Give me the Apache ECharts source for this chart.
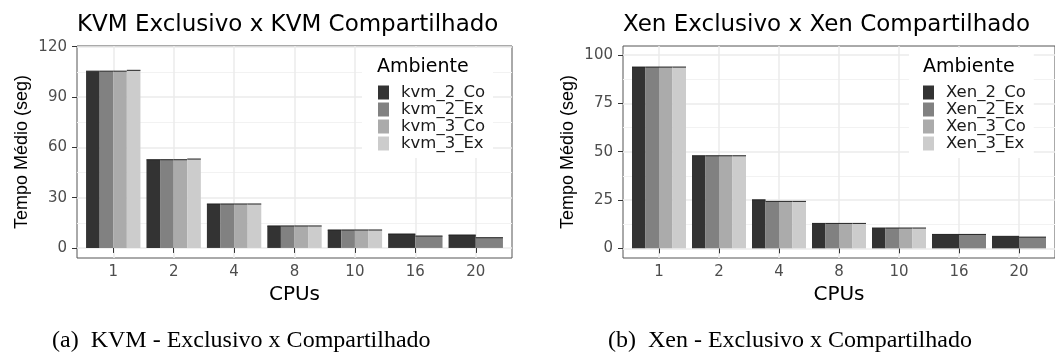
<!DOCTYPE html>
<html>
<head>
<meta charset="utf-8">
<script src="https://cdn.jsdelivr.net/npm/echarts@6/dist/echarts.min.js"></script>
<style>
  html, body { margin: 0; padding: 0; background: #fff; }
  #chart { width: 1055px; height: 352px; }
</style>
</head>
<body>
<div id="chart"></div>
<script>
// data
var cpus = ['1', '2', '4', '8', '10', '16', '20'];
var xPos = [1, 2, 3, 4, 5, 6, 7];

var kvmNames = ['kvm_2_Co', 'kvm_2_Ex', 'kvm_3_Co', 'kvm_3_Ex'];
var kvm2Co = [105.4, 52.6, 26.2, 13.1, 10.7, 8.3, 7.7];
var kvm2Ex = [105.4, 52.6, 26.2, 13.1, 10.7, 7.1, 6.1];
var kvm3Co = [105.4, 52.6, 26.2, 13.1, 10.7, null, null];
var kvm3Ex = [105.9, 53.0, 26.2, 13.1, 10.7, null, null];

var xenNames = ['Xen_2_Co', 'Xen_2_Ex', 'Xen_3_Co', 'Xen_3_Ex'];
var xen2Co = [93.8, 47.9, 25.1, 12.9, 10.5, 7.2, 6.2];
var xen2Ex = [93.8, 47.9, 24.3, 12.9, 10.5, 7.2, 5.8];
var xen3Co = [93.8, 47.9, 24.3, 12.9, 10.5, null, null];
var xen3Ex = [93.8, 47.9, 24.3, 12.9, 10.5, null, null];

var kvmTicks = [0, 30, 60, 90, 120];
var kvmMinor = [15, 45, 75, 105];
var xenTicks = [0, 25, 50, 75, 100];
var xenMinor = [12.5, 37.5, 62.5, 87.5];

var greys = ['#333333', '#818181', '#ababab', '#cccccc'];
// the picture is stretched sideways, so the wider DejaVu face fits it better
var font = 'DejaVu Sans';

// ggplot style dodge: bars of one CPU share 0.9 of a unit
function barSeries(name, k, values, group, panel) {
  return {
    type: 'custom',
    name: name,
    xAxisIndex: panel,
    yAxisIndex: panel * 2,
    itemStyle: { color: greys[k] },
    encode: { x: 0, y: 1 },
    data: values.map(function (v, i) { return [xPos[i], v]; })
                .filter(function (d) { return d[1] != null; }),
    renderItem: function (params, api) {
      var x = api.value(0), v = api.value(1);
      var present = group.map(function (s) { return s[x - 1] != null; });
      var n = present.filter(Boolean).length;
      var slot = present.slice(0, k).filter(Boolean).length;
      var w = 0.9 / n;
      var x0 = x - 0.45 + slot * w;
      var p0 = api.coord([x0, 0]);
      var p1 = api.coord([x0 + w, v]);
      return {
        type: 'group',
        children: [
          { type: 'rect',
            shape: { x: p0[0], y: p1[1], width: p1[0] - p0[0], height: p0[1] - p1[1] },
            style: { fill: greys[k] } },
          { type: 'line',
            shape: { x1: p0[0], y1: p1[1], x2: p1[0], y2: p1[1] },
            style: { stroke: '#222', lineWidth: 1 } }
        ]
      };
    }
  };
}

function xAxisFor(panel) {
  return {
    type: 'value', gridIndex: panel, min: 0.4, max: 7.6, interval: 1,
    name: 'CPUs', nameLocation: 'middle', nameGap: 21,
    nameTextStyle: { fontFamily: font, fontSize: 20, color: '#000' },
    axisLine: { show: false },
    axisTick: { show: true, length: 5, customValues: xPos, lineStyle: { color: '#333' } },
    axisLabel: {
      customValues: xPos, margin: 7, fontFamily: font, fontSize: 15, color: '#4d4d4d',
      formatter: function (v) { return cpus[Math.round(v) - 1]; }
    },
    splitLine: { show: true, lineStyle: { color: '#ebebeb', width: 1.5 } }
  };
}

function yAxisFor(panel, min, max, ticks) {
  return {
    type: 'value', gridIndex: panel, min: min, max: max,
    name: 'Tempo Médio (seg)', nameLocation: 'middle', nameGap: 46,
    nameTextStyle: { fontFamily: 'Liberation Sans', fontSize: 18, color: '#000' },
    axisLine: { show: false },
    axisTick: { show: true, length: 5, customValues: ticks, lineStyle: { color: '#333' } },
    axisLabel: { customValues: ticks, margin: 10, fontFamily: font, fontSize: 15, color: '#4d4d4d' },
    splitLine: { show: true, lineStyle: { color: '#ebebeb', width: 1.5 } }
  };
}

function minorAxisFor(panel, min, max, ticks) {
  return {
    type: 'value', gridIndex: panel, min: min, max: max, position: 'left',
    axisLine: { show: false },
    axisTick: { show: false, customValues: ticks },
    axisLabel: { show: false, customValues: ticks },
    splitLine: { show: true, lineStyle: { color: '#f2f2f2', width: 1 } }
  };
}

var kvmGroup = [kvm2Co, kvm2Ex, kvm3Co, kvm3Ex];
var xenGroup = [xen2Co, xen2Ex, xen3Co, xen3Ex];

var series = [];
kvmGroup.forEach(function (s, k) { series.push(barSeries(kvmNames[k], k, s, kvmGroup, 0)); });
xenGroup.forEach(function (s, k) { series.push(barSeries(xenNames[k], k, s, xenGroup, 1)); });

function legendFor(names, left, padLeft) {
  return {
    data: names, orient: 'vertical', left: left, top: 48,
    backgroundColor: '#fff', padding: [36, 8, 6, padLeft],
    icon: 'rect', itemWidth: 11, itemHeight: 14, itemGap: 0,
    selectedMode: false,
    textStyle: { fontFamily: font, fontSize: 16.5, color: '#1a1a1a', padding: [0, 0, 0, 7], lineHeight: 14 }
  };
}

var titleStyle = { fontFamily: font, fontSize: 23, fontWeight: 'normal', color: '#000' };
var legendTitleStyle = { fontFamily: font, fontSize: 19, fontWeight: 'normal', color: '#000' };
var captionStyle = { fontFamily: 'Liberation Serif', fontSize: 24, fontWeight: 'normal', color: '#000' };

var chart = echarts.init(document.getElementById('chart'), null, { renderer: 'canvas' });
chart.setOption({
  animation: false,
  backgroundColor: '#fff',
  title: [
    { text: 'KVM Exclusivo x KVM Compartilhado', left: 72, top: 9, textStyle: titleStyle },
    { text: 'Xen Exclusivo x Xen Compartilhado', left: 618, top: 9, textStyle: titleStyle },
    { text: 'Ambiente', left: 372, top: 53, z: 10, textStyle: legendTitleStyle },
    { text: 'Ambiente', left: 918, top: 53, z: 10, textStyle: legendTitleStyle },
    { text: '(a)  KVM - Exclusivo x Compartilhado', left: 47, top: 324, textStyle: captionStyle },
    { text: '(b)  Xen - Exclusivo x Compartilhado', left: 603, top: 324, textStyle: captionStyle }
  ],
  legend: [
    legendFor(kvmNames, 362, 16),
    legendFor(xenNames, 909, 14)
  ],
  grid: [
    { left: 77, top: 46, width: 435, height: 212, show: true,
      borderColor: '#555', borderWidth: 1, backgroundColor: '#fff' },
    { left: 623, top: 46, width: 440, height: 212, show: true,
      borderColor: '#555', borderWidth: 1, backgroundColor: '#fff' }
  ],
  xAxis: [xAxisFor(0), xAxisFor(1)],
  yAxis: [
    yAxisFor(0, -6, 120.4, kvmTicks),
    minorAxisFor(0, -6, 120.4, kvmMinor),
    yAxisFor(1, -5, 104.7, xenTicks),
    minorAxisFor(1, -5, 104.7, xenMinor)
  ],
  series: series
});
</script>
</body>
</html>
